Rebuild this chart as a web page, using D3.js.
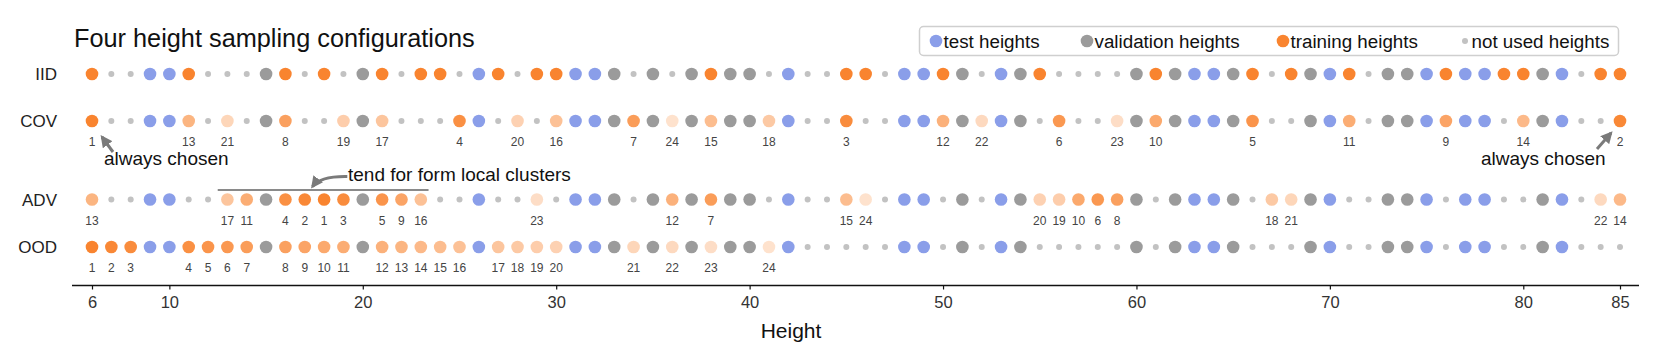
<!DOCTYPE html>
<html>
<head>
<meta charset="utf-8">
<script src="https://cdn.jsdelivr.net/npm/d3@7"></script>
<style>
  body { margin: 0; background: #fff; }
  svg { font-family: "Liberation Sans", Arial, sans-serif; }
</style>
</head>
<body>
<svg id="chart" width="1661" height="353"></svg>
<script>
// every height that can be sampled
const heights = [6, 7, 8, 9, 10, 11, 12, 13, 14, 15, 16, 17, 18, 19, 20, 21, 22, 23, 24, 25,
  26, 27, 28, 29, 30, 31, 32, 33, 34, 35, 36, 37, 38, 39, 40, 41, 42, 43, 44, 45,
  46, 47, 48, 49, 50, 51, 52, 53, 54, 55, 56, 57, 58, 59, 60, 61, 62, 63, 64, 65,
  66, 67, 68, 69, 70, 71, 72, 73, 74, 75, 76, 77, 78, 79, 80, 81, 82, 83, 84, 85];

const configs = ["IID", "COV", "ADV", "OOD"];

// shared by all four configurations
const testHeights = [9, 10, 26, 31, 32, 42, 48, 49, 53, 63, 64, 70, 75, 77, 78, 82];
const validationHeights = [15, 20, 33, 35, 37, 39, 40, 51, 54, 60, 62, 65, 69, 73, 74, 81];

// training heights; for COV / ADV / OOD listed in order of being chosen (rank 1 first)
const iidTraining = [6, 11, 16, 18, 21, 23, 24, 27, 29, 30, 38, 45, 46, 50, 55, 61, 66, 68, 71, 76, 79, 80, 84, 85];
const covTraining = [6, 85, 45, 25, 66, 56, 34, 16, 76, 61, 71, 50, 11, 80, 38, 30, 21, 41, 19, 28, 13, 52, 59, 36];
const advTraining = [18, 17, 19, 16, 21, 58, 38, 59, 22, 57, 14, 36, 6, 85, 45, 23, 13, 67, 56, 55, 68, 84, 29, 46];
const oodTraining = [6, 7, 8, 11, 12, 13, 14, 16, 17, 18, 19, 21, 22, 23, 24, 25, 27, 28, 29, 30, 34, 36, 38, 41];

const tickValues = [6, 10, 20, 30, 40, 50, 60, 70, 80, 85];

const legendItems = [
  { type: "test", label: "test heights" },
  { type: "validation", label: "validation heights" },
  { type: "training", label: "training heights" },
  { type: "unused", label: "not used heights" }
];

const training = { IID: iidTraining, COV: covTraining, ADV: advTraining, OOD: oodTraining };
const ranked = { IID: false, COV: true, ADV: true, OOD: true };

const colors = {
  test: "#8a9ee9",
  validation: "#9b9b9b",
  training: "#f9842f",
  unused: "#c2c2c2"
};

const svg = d3.select("#chart");

const x = d3.scaleLinear().domain([6, 85]).range([92, 1620]);
const rowY = d3.scaleOrdinal().domain(configs).range([74, 121, 199.5, 247]);
const radius = (type) => type === "unused" ? 3 : 6.3;
// rank 1 fully saturated, later ranks fade out
const rankOpacity = d3.scaleLinear().domain([1, 24]).range([1, 0.24]);

function buildRow(name) {
  const train = training[name];
  return heights.map((h) => {
    let type = "unused";
    let rank = null;
    if (testHeights.includes(h)) type = "test";
    else if (validationHeights.includes(h)) type = "validation";
    else if (train.includes(h)) {
      type = "training";
      if (ranked[name]) rank = train.indexOf(h) + 1;
    }
    return { h, type, rank };
  });
}

// title
svg.append("text")
  .attr("x", 74)
  .attr("y", 47)
  .attr("font-size", 25.3)
  .attr("fill", "#111")
  .text("Four height sampling configurations");

// legend
const legend = svg.append("g");
legend.append("rect")
  .attr("x", 919.5).attr("y", 26.5)
  .attr("width", 699).attr("height", 29)
  .attr("rx", 4)
  .attr("fill", "#fff")
  .attr("stroke", "#cfcfcf")
  .attr("stroke-width", 1.5);
const legendX = d3.scaleOrdinal().domain(legendItems.map((d) => d.type)).range([936, 1087, 1283, 1465]);
const li = legend.selectAll(".item").data(legendItems).enter().append("g")
  .attr("class", "item")
  .attr("transform", (d) => `translate(${legendX(d.type)},41)`);
li.append("circle")
  .attr("r", (d) => radius(d.type))
  .attr("fill", (d) => colors[d.type]);
li.append("text")
  .attr("x", (d) => d.type === "unused" ? 6.5 : 7.5)
  .attr("y", 6.7)
  .attr("font-size", 18.8)
  .attr("fill", "#111")
  .text((d) => d.label);

// rows
configs.forEach((name) => {
  const row = svg.append("g").attr("class", "row");
  const y = rowY(name);
  const data = buildRow(name);

  row.append("text")
    .attr("x", 57)
    .attr("y", y + 6)
    .attr("text-anchor", "end")
    .attr("font-size", 17)
    .attr("fill", "#222")
    .text(name);

  row.selectAll("circle").data(data).enter().append("circle")
    .attr("cx", (d) => x(d.h))
    .attr("cy", y)
    .attr("r", (d) => radius(d.type))
    .attr("fill", (d) => colors[d.type])
    .attr("fill-opacity", (d) => d.rank ? rankOpacity(d.rank) : 1);

  row.selectAll(".rank").data(data.filter((d) => d.rank)).enter().append("text")
    .attr("class", "rank")
    .attr("x", (d) => x(d.h))
    .attr("y", y + 25)
    .attr("text-anchor", "middle")
    .attr("font-size", 12)
    .attr("fill", "#444")
    .text((d) => d.rank);
});

// annotations
const annoColor = "#7a7a7a";
svg.append("defs").append("marker")
  .attr("id", "head")
  .attr("viewBox", "0 0 10 10")
  .attr("refX", 8).attr("refY", 5)
  .attr("markerWidth", 4).attr("markerHeight", 4)
  .attr("orient", "auto")
  .append("path")
  .attr("d", "M0,0L10,5L0,10z")
  .attr("fill", annoColor);

const covY = rowY("COV");
const advY = rowY("ADV");

svg.append("line")
  .attr("x1", x(6) + 21).attr("y1", covY + 31)
  .attr("x2", x(6) + 10).attr("y2", covY + 16)
  .attr("stroke", annoColor).attr("stroke-width", 3)
  .attr("marker-end", "url(#head)");
svg.append("text")
  .attr("x", 104).attr("y", covY + 43.5)
  .attr("font-size", 19).attr("fill", "#111")
  .text("always chosen");

svg.append("line")
  .attr("x1", x(85) - 23).attr("y1", covY + 28)
  .attr("x2", x(85) - 9).attr("y2", covY + 12)
  .attr("stroke", annoColor).attr("stroke-width", 3)
  .attr("marker-end", "url(#head)");
svg.append("text")
  .attr("x", 1481).attr("y", covY + 43.5)
  .attr("font-size", 19).attr("fill", "#111")
  .text("always chosen");

svg.append("line")
  .attr("x1", x(12.5)).attr("x2", x(23.4))
  .attr("y1", advY - 9.5).attr("y2", advY - 9.5)
  .attr("stroke", "#8a8a8a").attr("stroke-width", 2);
svg.append("path")
  .attr("d", `M${x(19.2)},${advY - 23} Q${x(17.8)},${advY - 23.5} ${x(17.4)},${advY - 13}`)
  .attr("fill", "none")
  .attr("stroke", annoColor).attr("stroke-width", 3)
  .attr("marker-end", "url(#head)");
svg.append("text")
  .attr("x", 348).attr("y", advY - 19)
  .attr("font-size", 19).attr("fill", "#111")
  .text("tend for form local clusters");

// x axis
const axisY = 285.5;
const gx = svg.append("g")
  .attr("transform", `translate(0,${axisY})`)
  .call(d3.axisBottom(x).tickValues(tickValues).tickSize(4).tickSizeOuter(0).tickPadding(7));
gx.select(".domain")
  .attr("d", `M${x(6) - 20},0H${x(85) + 19}`)
  .attr("stroke", "#111")
  .attr("stroke-width", 1.5);
gx.selectAll(".tick line").attr("stroke", "#111").attr("stroke-width", 1.2);
gx.selectAll(".tick text")
  .attr("font-size", 16.5)
  .attr("font-family", "'Liberation Sans', Arial, sans-serif")
  .attr("fill", "#333");

svg.append("text")
  .attr("x", 791)
  .attr("y", 338)
  .attr("text-anchor", "middle")
  .attr("font-size", 21)
  .attr("fill", "#111")
  .text("Height");
</script>
</body>
</html>
